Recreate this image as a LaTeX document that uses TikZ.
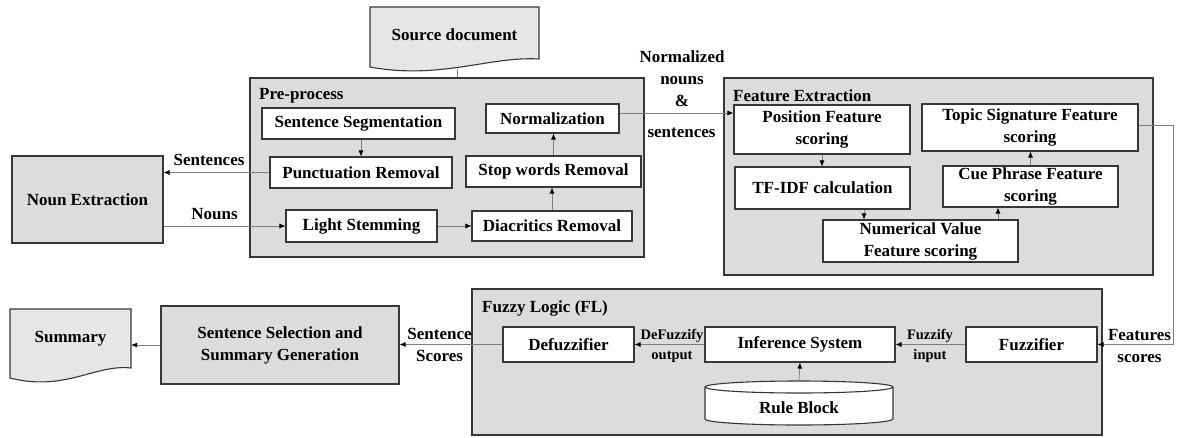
\documentclass[tikz,border=0pt]{standalone}
\usepackage{fontspec}
\setmainfont{Liberation Serif}
\usetikzlibrary{arrows.meta}
\definecolor{boxfill}{RGB}{220,220,220}
\definecolor{docfill}{RGB}{230,230,230}
\definecolor{edgecol}{RGB}{55,55,55}
\definecolor{wirecol}{RGB}{125,125,125}
\tikzset{
  big/.style={font=\bfseries\fontsize{17}{22}\selectfont},
  small/.style={font=\bfseries\fontsize{14.5}{20}\selectfont},
  container/.style={draw=edgecol, line width=1.2pt, fill=boxfill, rectangle, inner sep=0pt},
  wbox/.style={draw=edgecol, line width=1.1pt, fill=white, rectangle, inner sep=0pt, big, align=center},
  gbox/.style={wbox, fill=boxfill},
  shapeline/.style={draw=edgecol, line width=1.1pt},
  plainline/.style={draw=wirecol, line width=0.7pt},
  arr/.style={plainline, -{Latex[length=6pt,width=5pt,color=black]}},
  lbl/.style={big, inner sep=0pt, align=center},
  slbl/.style={small, inner sep=0pt, align=center},
}
\begin{document}
\begin{tikzpicture}[x=1pt,y=-1pt]
\useasboundingbox (0,0) rectangle (1177,437);

% containers
\node[container, minimum width=394pt, minimum height=179pt] (pre) at (447,167.5) {};
\node[container, minimum width=429pt, minimum height=197pt] (fe) at (938.5,176.5) {};
\node[container, minimum width=630pt, minimum height=146pt] (fl) at (787,362) {};

\node[lbl, anchor=west] (pret) at (259,96) {Pre-process};
\node[lbl, anchor=west] (fet) at (733,96) {Feature Extraction};
\node[lbl, anchor=west] (flt) at (482,308) {Fuzzy Logic (FL)};

% document shapes
\draw[shapeline, fill=docfill] (370,7) -- (539,7) -- (539,59) .. controls (490,56) and (440,80) .. (370,67) -- cycle;
\node[lbl, minimum width=169pt, minimum height=55pt] (src) at (454.5,34.5) {Source document};
\draw[shapeline, fill=docfill] (10,309) -- (131,309) -- (131,368) .. controls (95,364) and (65,392) .. (10,378) -- cycle;
\node[lbl, minimum width=121pt, minimum height=58pt] (sum) at (70.5,339) {Summary};

% pre-process
\node[gbox, minimum width=151pt, minimum height=87pt] (noun) at (87.5,199.5) {Noun Extraction};
\node[wbox, minimum width=193pt, minimum height=31pt] (seg) at (358.5,123.5) {Sentence Segmentation};
\node[wbox, minimum width=182pt, minimum height=31pt] (punct) at (361,172.5) {Punctuation Removal};
\node[wbox, minimum width=151pt, minimum height=32pt] (light) at (361.5,226) {Light Stemming};
\node[wbox, minimum width=133pt, minimum height=29pt] (norm) at (552.5,118.5) {Normalization};
\node[wbox, minimum width=175pt, minimum height=31pt] (stop) at (553.5,171.5) {Stop words Removal};
\node[wbox, minimum width=160pt, minimum height=30pt] (diac) at (552,226) {Diacritics Removal};

% feature extraction
\node[wbox, minimum width=176pt, minimum height=49pt] (pos) at (822,129.5) {Position Feature\\scoring};
\node[wbox, minimum width=175pt, minimum height=42pt] (tfidf) at (822.5,188) {TF-IDF calculation};
\node[wbox, minimum width=195pt, minimum height=42pt] (numv) at (920.5,241) {Numerical Value\\Feature scoring};
\node[wbox, minimum width=175pt, minimum height=41pt] (cue) at (1030.5,186.5) {Cue Phrase Feature\\scoring};
\node[wbox, minimum width=216pt, minimum height=47pt] (topic) at (1030,127.5) {Topic Signature Feature\\scoring};

% fuzzy logic
\node[wbox, minimum width=131pt, minimum height=35pt] (defuzz) at (568.5,344.5) {Defuzzifier};
\node[wbox, minimum width=190pt, minimum height=35pt] (infer) at (800,344.5) {Inference System};
\node[wbox, minimum width=131pt, minimum height=35pt] (fuzz) at (1031.5,344.5) {Fuzzifier};
\draw[shapeline, fill=white] (705,387) -- (705,419) arc[start angle=180, end angle=360, x radius=94pt, y radius=6pt] -- (893,387) arc[start angle=0, end angle=180, x radius=94pt, y radius=6pt] -- cycle;
\draw[shapeline] (705,387) arc[start angle=180, end angle=360, x radius=94pt, y radius=6pt];
\node[lbl, minimum width=188pt, minimum height=54pt] (rule) at (799,408) {Rule Block};

\node[gbox, minimum width=238pt, minimum height=78pt] (sel) at (280,345) {Sentence Selection and\\Summary Generation};

% connectors
\coordinate (srcb) at (457,69);
\draw[plainline] (srcb) -- (srcb |- pre.north);
\draw[arr] (punct.north |- seg.south) -- (punct.north);
\draw[arr] (punct.west) -- (punct.west -| noun.east);
\node[lbl] (sentl) at (209,160) {Sentences};
\draw[arr] (light.west -| noun.east) -- (light.west);
\node[lbl] (nounl) at (214.5,214) {Nouns};
\draw[arr] (light.east) -- (diac.west);
\draw[arr] (diac.north) -- (diac.north |- stop.south);
\draw[arr] (stop.north) -- (stop.north |- norm.south);
\draw[arr] ([yshift=5.5pt]norm.east) -- ([yshift=5.5pt]norm.east -| pos.west);
\node[lbl] (nlab) at (682,79) {Normalized\\nouns\\\&};
\node[lbl] (slab) at (681.5,133) {sentences};

\draw[arr] (pos.south) -- (pos.south |- tfidf.north);
\draw[arr] ([xshift=41.5pt]tfidf.south) -- ([xshift=41.5pt]tfidf.south |- numv.north);
\draw[arr] ([xshift=77.5pt]numv.north) -- ([xshift=77.5pt]numv.north |- cue.south);
\draw[arr] (cue.north) -- (cue.north |- topic.south);
\draw[arr] ([yshift=2pt]topic.east) -- ++(35pt,0) |- (fuzz.east);
\node[lbl] (featl) at (1139.5,346) {Features\\scores};

\draw[arr] (fuzz.west) -- (infer.east);
\node[slbl] (fil) at (930,346) {Fuzzify\\input};
\draw[arr] (infer.west) -- (defuzz.east);
\node[slbl] (dfl) at (672,346) {DeFuzzify\\output};
\draw[arr] (rule.north) -- (infer.south);
\draw[arr] (defuzz.west) -- (defuzz.west -| sel.east);
\node[lbl] (scl) at (439.5,345) {Sentence\\Scores};
\draw[arr] (sel.west) -- (sel.west -| sum.east);
\end{tikzpicture}
\end{document}
